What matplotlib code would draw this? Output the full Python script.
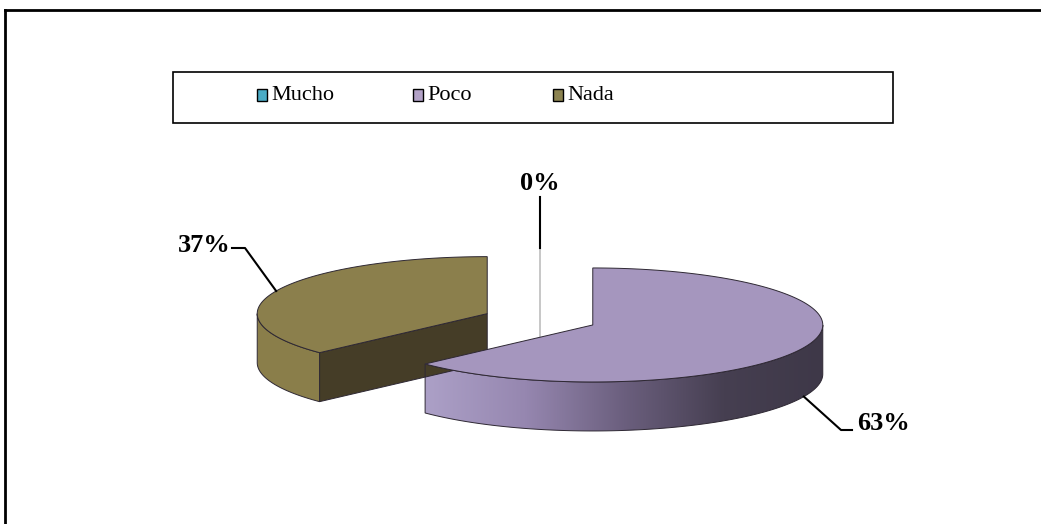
import numpy as np
import matplotlib.pyplot as plt
from matplotlib.patches import Polygon, Rectangle
from matplotlib.colors import LinearSegmentedColormap

# Survey answers (percent)
categories = ['Mucho', 'Poco', 'Nada']
values = [0, 63, 37]
legend_colors = ['#4BACC6', '#B3A2C7', '#8C8350']
top_colors = ['#4BACC6', '#A596BE', '#8B7F4C']
wall_colors = ['#3E8EA3', None, '#8A7E4A']
cut_colors = ['#2B6070', '#4A4058', '#453D27']

# 3D pie geometry (pixels)
W, H = 1041, 524
CX, CY = 540, 319.3
A, B = 230, 57
T = 49
EXPL = 0.25

poco_wall = LinearSegmentedColormap.from_list(
    'pocowall', ['#ACA0C7', '#9687B0', '#6B5F7E', '#463F51', '#3E3848'])


def rim(ox, oy, th, dz=0.0):
    return ox + A * np.sin(th), oy - B * np.cos(th) + dz


def slice_center(mid):
    return CX + EXPL * A * np.sin(mid), CY - EXPL * B * np.cos(mid)


fig = plt.figure(figsize=(W / 100, H / 100), dpi=100)
ax = fig.add_axes([0, 0, 1, 1])
ax.set_xlim(0, W)
ax.set_ylim(H, 0)
ax.axis('off')

# outer frame (top and left edges only are inside the picture)
ax.plot([5, W], [10, 10], color='black', lw=2)
ax.plot([5, 5], [10, H], color='black', lw=2)

# slice angles, clockwise from 12 o'clock
total = float(sum(values))
ends = np.cumsum(values) / total * 2 * np.pi
starts = ends - np.array(values) / total * 2 * np.pi
mids = (starts + ends) / 2
centers = [slice_center(m) for m in mids]

edge_kw = dict(edgecolor='#2E2833', linewidth=0.7)

# back to front
order = np.argsort([c[1] for c in centers])
for i in order:
    s, e = starts[i], ends[i]
    ox, oy = centers[i]
    if values[i] == 0:
        # empty slice shows only as a thin vertical line
        x0, y0 = rim(ox, oy, s)
        ax.plot([x0, x0], [y0, oy + T], color='#BDBDBD', lw=1.2, zorder=2)
        continue

    # visible cut faces
    faces = []
    if np.sin(s) < -1e-6:
        faces.append(s)
    if np.sin(e) > 1e-6:
        faces.append(e)
    for th in faces:
        rx, ry = rim(ox, oy, th)
        poly = [(ox, oy), (rx, ry), (rx, ry + T), (ox, oy + T)]
        ax.add_patch(Polygon(poly, closed=True, facecolor=cut_colors[i],
                             zorder=3, **edge_kw))

    # outer wall on the front half
    lo, hi = max(s, np.pi / 2), min(e, 3 * np.pi / 2)
    if hi > lo:
        th = np.linspace(lo, hi, 200)
        tx, ty = rim(ox, oy, th)
        bx, by = rim(ox, oy, th[::-1], T)
        poly = np.column_stack([np.r_[tx, bx], np.r_[ty, by]])
        if wall_colors[i] is None:
            patch = Polygon(poly, closed=True, facecolor='none', zorder=3,
                            **edge_kw)
            ax.add_patch(patch)
            grad = np.linspace(0, 1, 256)[None, :]
            im = ax.imshow(grad, cmap=poco_wall, aspect='auto',
                           extent=[poly[:, 0].min(), poly[:, 0].max(),
                                   poly[:, 1].max(), poly[:, 1].min()],
                           zorder=2.9)
            im.set_clip_path(patch)
            ax.set_xlim(0, W)
            ax.set_ylim(H, 0)
        else:
            ax.add_patch(Polygon(poly, closed=True, facecolor=wall_colors[i],
                                 zorder=3, **edge_kw))

    # top face
    th = np.linspace(s, e, 300)
    tx, ty = rim(ox, oy, th)
    poly = np.column_stack([np.r_[ox, tx], np.r_[oy, ty]])
    ax.add_patch(Polygon(poly, closed=True, facecolor=top_colors[i],
                         zorder=3, **edge_kw))

# data labels with leader lines
lab_kw = dict(fontfamily='Liberation Serif', fontweight='bold', fontsize=19,
              color='black', zorder=5)
for i in range(len(values)):
    ox, oy = centers[i]
    txt = f'{values[i]}%'
    if categories[i] == 'Mucho':
        x0, y0 = rim(ox, oy, mids[i])
        ax.plot([x0, x0], [y0, 197], color='black', lw=1.5, zorder=4)
        ax.text(x0, 184, txt, ha='center', va='center', **lab_kw)
    elif categories[i] == 'Poco':
        x0, y0 = rim(ox, oy, mids[i], T)
        ax.plot([x0, 841, 852], [y0, 430, 430], color='black', lw=1.5,
                zorder=4)
        ax.text(857, 424, txt, ha='left', va='center', **lab_kw)
    else:
        x0, y0 = rim(ox, oy, mids[i])
        ax.plot([x0, 245, 232], [y0, 248, 248], color='black', lw=1.5,
                zorder=4)
        ax.text(231, 245, txt, ha='right', va='center', **lab_kw)

# legend box
ax.add_patch(Rectangle((173, 72), 720, 51, facecolor='white',
                       edgecolor='black', lw=1.2, zorder=4))
leg_x = [257, 413, 553]
for i in range(len(categories)):
    ax.add_patch(Rectangle((leg_x[i], 89), 10, 12, facecolor=legend_colors[i],
                           edgecolor='black', lw=1.0, zorder=5))
    ax.text(leg_x[i] + 14, 96, categories[i], ha='left', va='center',
            fontfamily='Liberation Serif', fontsize=16, color='black',
            zorder=5)

fig.savefig('out.png', dpi=100)
